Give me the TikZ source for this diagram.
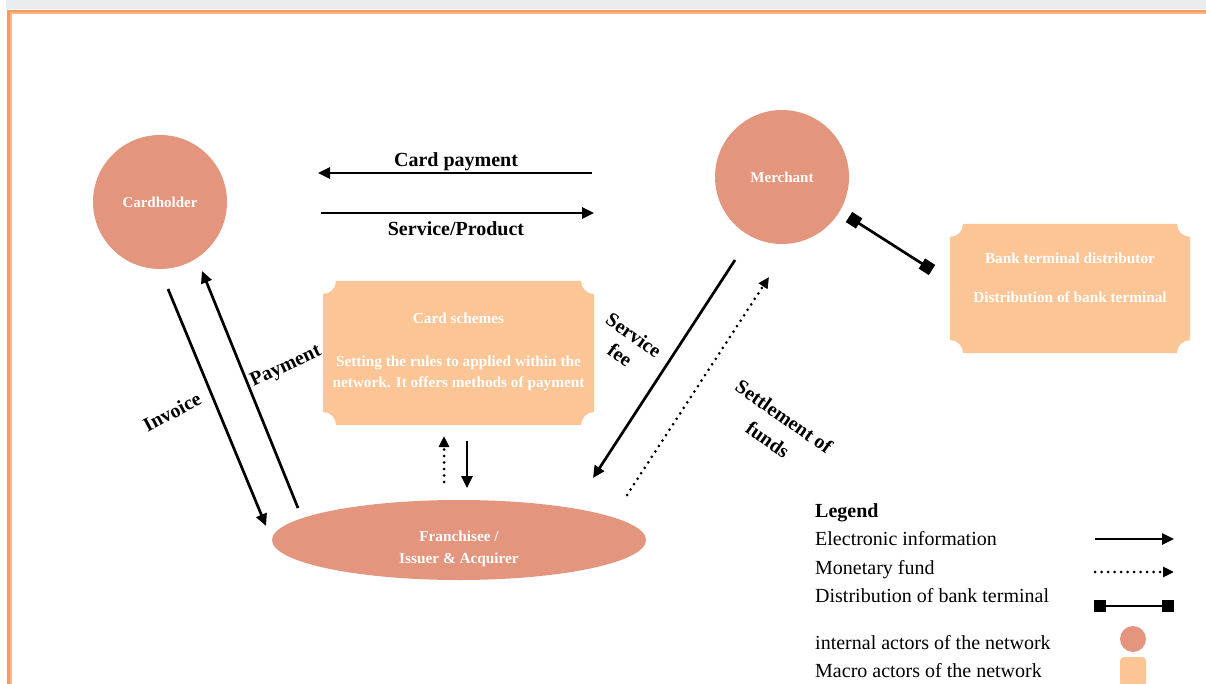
\documentclass[tikz,border=0pt]{standalone}
\usepackage{fontspec}
\setmainfont{Liberation Serif}
\usetikzlibrary{arrows.meta,shapes.geometric}
\definecolor{actor}{HTML}{E3957D}
\definecolor{macro}{HTML}{FCC596}
\definecolor{frameor}{HTML}{FD9A5B}
\definecolor{frameorl}{HTML}{FDB385}
\definecolor{framegray}{HTML}{E8ECEF}
\newcommand\concavebox[5]{%
 \fill[macro] ({#1+#5},#2) -- ({#3-#5},#2)
   .. controls ({#3-#5},{#2+0.552*#5}) and ({#3-0.552*#5},{#2+#5}) .. (#3,{#2+#5})
   -- (#3,{#4-#5})
   .. controls ({#3-0.552*#5},{#4-#5}) and ({#3-#5},{#4-0.552*#5}) .. ({#3-#5},#4)
   -- ({#1+#5},#4)
   .. controls ({#1+#5},{#4-0.552*#5}) and ({#1+0.552*#5},{#4-#5}) .. (#1,{#4-#5})
   -- (#1,{#2+#5})
   .. controls ({#1+0.552*#5},{#2+#5}) and ({#1+#5},{#2+0.552*#5}) .. ({#1+#5},#2) -- cycle;}
\tikzset{
  actornode/.style={circle,fill=actor,minimum size=134pt,inner sep=0pt,text=white,font=\fontsize{15}{18}\selectfont\bfseries},
  boxtext/.style={text=white,align=center,font=\fontsize{15.3}{21.5}\selectfont\bfseries},
  lbl/.style={font=\fontsize{20}{22}\selectfont\bfseries,align=center,inner sep=0pt},
  elec/.style={line width=2.7pt,-{Triangle[length=12pt,width=11pt]}},
  fund/.style={line width=3pt,dash pattern=on 0pt off 6.5pt,line cap=round,-{Triangle[length=11pt,width=10pt]}},
  distr/.style={line width=2.7pt,{Square[length=12pt,width=12pt]}-{Square[length=12pt,width=12pt]}},
  legtext/.style={anchor=west,font=\fontsize{20}{22}\selectfont,text height=14pt,text depth=4pt,inner sep=0pt}
}
\begin{document}
\begin{tikzpicture}[x=1pt,y=-1pt]
\useasboundingbox (0,0) rectangle (1206,684);
% frame
\fill[framegray] (6,0) rectangle (1206,9);
\fill[frameor] (7,10) rectangle (1206,14);
\fill[frameor] (7,10) rectangle (11,684);
\fill[frameorl] (10,12.5) rectangle (1206,14);
\fill[frameorl] (10,12.5) rectangle (11.5,684);

% macro actors
\concavebox{323}{281}{594}{425}{13}
\node[boxtext] (cs) at (458.5,352) {Card schemes\\[21.5pt]Setting the rules to applied within the\\network. It offers methods of payment};
\concavebox{950}{224}{1190}{353}{13}
\node[boxtext] (btd) at (1070,278) {Bank terminal distributor\\[18pt]Distribution of bank terminal};

% internal actors
\node[actornode] (ch) at (160,202) {Cardholder};
\node[actornode] (me) at (782,177) {Merchant};
\node[ellipse,fill=actor,minimum width=374pt,minimum height=80pt,inner sep=0pt] (fr) at (459,540) {};
\node[boxtext,font=\fontsize{15.3}{22}\selectfont\bfseries] (frt) at (459,549) {Franchisee /\\Issuer \& Acquirer};

% coordinates
\coordinate (cpS) at (592,173); \coordinate (cpE) at (318,173);
\coordinate (spS) at (321,213); \coordinate (spE) at (594,213);
\coordinate (invS) at (168,289); \coordinate (invE) at (266,526);
\coordinate (payS) at (298,508); \coordinate (payE) at (202,271);
\coordinate (upS) at (444,482); \coordinate (upE) at (444,436);
\coordinate (dnS) at (467,441); \coordinate (dnE) at (467,488);
\coordinate (sfS) at (735,260); \coordinate (sfE) at (593,478);
\coordinate (stS) at (627,495); \coordinate (stE) at (769,277);
\coordinate (dbS) at (849,217); \coordinate (dbE) at (932,270);

% connectors
\draw[elec] (cpS) -- (cpE);
\node[lbl] (lcp) at (456,162) {Card payment};
\draw[elec] (spS) -- (spE);
\node[lbl] (lsp) at (456,229) {Service/Product};
\draw[elec] (invS) -- (invE);
\node[lbl,rotate=28] (linv) at (172,412) {Invoice};
\draw[elec] (payS) -- (payE);
\node[lbl,rotate=25] (lpay) at (286,367) {Payment};
\draw[fund] (upS) -- (upE);
\draw[elec] (dnS) -- (dnE);
\draw[elec] (sfS) -- (sfE);
\node[lbl,rotate=-35,font=\fontsize{20}{24}\selectfont\bfseries] (lsf) at (627,345) {Service\\fee};
\draw[fund] (stS) -- (stE);
\node[lbl,rotate=-35,font=\fontsize{20}{28}\selectfont\bfseries] (lst) at (776,428) {Settlement of\\funds};
\draw[distr] (dbS) -- (dbE);

% legend
\node[legtext,font=\fontsize{20}{22}\selectfont\bfseries] (lg) at (815,512) {Legend};
\node[legtext] (lg1) at (815,540) {Electronic information};
\node[legtext] (lg2) at (815,569) {Monetary fund};
\node[legtext] (lg3) at (815,597) {Distribution of bank terminal};
\node[legtext] (lg4) at (815,644) {internal actors of the network};
\node[legtext] (lg5) at (815,672) {Macro actors of the network};
\coordinate (a1S) at (1095,539); \coordinate (a1E) at (1174,539);
\coordinate (a2S) at (1095,572); \coordinate (a2E) at (1174,572);
\coordinate (a3S) at (1094,606); \coordinate (a3E) at (1174,606);
\draw[elec] (a1S) -- (a1E);
\draw[fund] (a2S) -- (a2E);
\draw[distr] (a3S) -- (a3E);
\node[circle,fill=actor,minimum size=26pt,inner sep=0pt] (lgc) at (1133,639) {};
\node[fill=macro,rounded corners=4pt,minimum width=26pt,minimum height=30pt,inner sep=0pt] (lgs) at (1133,672) {};
\end{tikzpicture}
\end{document}
